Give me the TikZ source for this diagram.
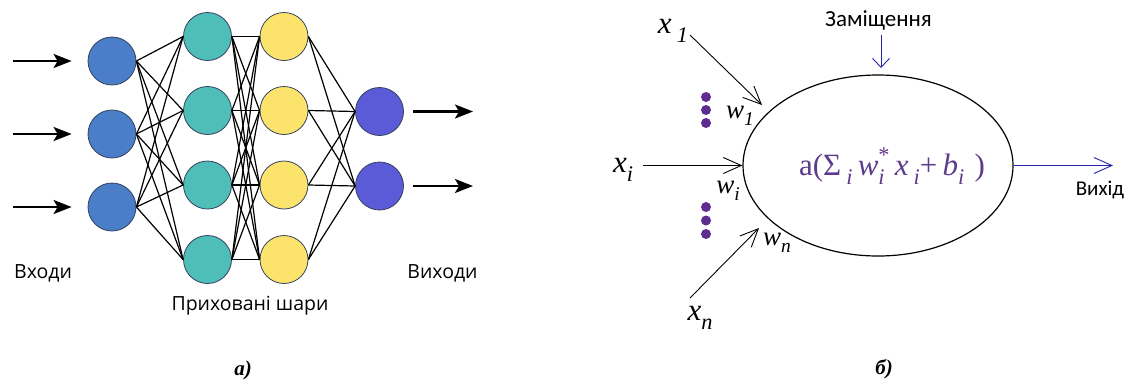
\documentclass[tikz,border=0pt]{standalone}
\usepackage{fontspec}
\usepackage{graphicx}
\newfontfamily\opensans{Open Sans}
\newfontfamily\carlito{Carlito}
\newfontfamily\lserif{Liberation Serif}
\usetikzlibrary{arrows.meta,shapes.geometric}
\definecolor{inblue}{HTML}{4A7EC8}
\definecolor{teal2}{HTML}{4FBDB8}
\definecolor{yell}{HTML}{FBE36C}
\definecolor{outblue}{HTML}{5B5BD8}
\definecolor{nborder}{HTML}{34415C}
\definecolor{dotc}{HTML}{5F2C91}
\definecolor{formc}{HTML}{5C3B8A}
\definecolor{darkblue}{HTML}{2424A8}
\newcommand\lsb[1]{\raisebox{-0.28em}{\scalebox{0.72}{#1}}}
\newcommand\lsp[1]{\raisebox{0.42em}{\scalebox{0.72}{#1}}}
\tikzset{
  neur/.style={circle, draw=nborder, line width=0.8pt, minimum size=48pt, inner sep=0pt},
  edge/.style={line width=1.2pt, black},
  inarrow/.style={line width=2.2pt, -{Stealth[length=18pt,width=14pt,inset=4pt]}},
  thinarrow/.style={line width=0.9pt, -{Straight Barb[length=18pt,width=16pt,line width=0.9pt]}},
  bluearrow/.style={line width=0.9pt, darkblue, -{Straight Barb[length=18pt,width=16pt,line width=0.9pt]}},
  biasarrow/.style={line width=0.9pt, darkblue, -{Straight Barb[length=9pt,width=17pt,line width=0.9pt]}},
  lab/.style={font=\opensans\fontsize{19.5}{22}\selectfont, inner sep=0pt},
  rlab/.style={font=\carlito\fontsize{21}{24}\selectfont, inner sep=0pt},
  mlab/.style={font=\lserif\itshape\fontsize{31}{33}\selectfont, inner sep=0pt},
  wlab/.style={font=\lserif\itshape\fontsize{27}{29}\selectfont, inner sep=0pt},
  dot/.style={circle, fill=dotc, minimum size=10pt, inner sep=0pt},
  caption/.style={font=\lserif\bfseries\itshape\fontsize{21}{23}\selectfont, inner sep=0pt}
}
\begin{document}
\begin{tikzpicture}[x=1pt,y=-1pt]
\useasboundingbox (0,0) rectangle (1130,381);
% ---------- panel a ----------
\node[neur, fill=inblue] (i1) at (112,61) {};
\node[neur, fill=inblue] (i2) at (112,134) {};
\node[neur, fill=inblue] (i3) at (112,207) {};
\node[neur, fill=teal2] (h1) at (207.5,36.5) {};
\node[neur, fill=teal2] (h2) at (207.5,110.5) {};
\node[neur, fill=teal2] (h3) at (207.5,185) {};
\node[neur, fill=teal2] (h4) at (207.5,259.5) {};
\node[neur, fill=yell] (k1) at (284,36.5) {};
\node[neur, fill=yell] (k2) at (284,110.5) {};
\node[neur, fill=yell] (k3) at (284,185) {};
\node[neur, fill=yell] (k4) at (284,259.5) {};
\node[neur, fill=outblue] (o1) at (379.5,111.5) {};
\node[neur, fill=outblue] (o2) at (379.5,186) {};
\foreach \a in {1,2,3} \foreach \b in {1,...,4} \draw[edge] (i\a.east) -- (h\b.west);
\foreach \a in {1,...,4} \foreach \b in {1,...,4} \draw[edge] (h\a.east) -- (k\b.west);
\foreach \a in {1,...,4} \foreach \b in {1,2} \draw[edge] (k\a.east) -- (o\b.west);
\coordinate (s1) at (13,61);
\coordinate (s2) at (13,134);
\coordinate (s3) at (13,207);
\draw[inarrow, shorten >=16pt] (s1) -- (i1);
\draw[inarrow, shorten >=16pt] (s2) -- (i2);
\draw[inarrow, shorten >=16pt] (s3) -- (i3);
\coordinate (t1) at (473,111.5);
\coordinate (t2) at (473,186);
\draw[inarrow, shorten <=9pt] (o1) -- (t1);
\draw[inarrow, shorten <=9pt] (o2) -- (t2);
\node[lab] (inl) at (43,273) {Входи};
\node[lab] (outl) at (442.5,273) {Виходи};
\node[lab] (hidl) at (250,306) {Приховані шари};
\node[caption] (capa) at (243,370) {а)};
% ---------- panel b ----------
\node[ellipse, draw, line width=1.2pt, minimum width=270pt, minimum height=181pt, inner sep=0pt] (neuron) at (878,165.5) {};
\node[inner sep=0pt, text=formc, font=\lserif\fontsize{31}{33}\selectfont] (form) at (892,166)
  {a(Σ\,\lsb{\itshape i}\,{\itshape w}\rlap{\lsb{\itshape i}}\lsp{*}\,{\itshape x}\,\lsb{\itshape i}+\,{\itshape b}\lsb{\itshape i}\,\,)};
\node[mlab] (x1) at (673,31) {x\,\lsb{1}};
\node[mlab] (xi) at (623,170) {x\lsb{i}};
\node[mlab] (xn) at (700,318) {x\lsb{n}};
\node[wlab] (w1) at (740,116) {w\lsb{1}};
\node[wlab] (wi) at (728,191) {w\lsb{i}};
\node[wlab] (wn) at (777,243) {w\lsb{n}};
\node[dot] (d1) at (706,97) {};
\node[dot] (d2) at (706,110) {};
\node[dot] (d3) at (706,123) {};
\node[dot] (d4) at (706,207) {};
\node[dot] (d5) at (706,220.5) {};
\node[dot] (d6) at (706,234) {};
\coordinate (x1s) at (690,35);
\coordinate (x1e) at (762,105);
\draw[thinarrow] (x1s) -- (x1e);
\coordinate (xis) at (643,165.5);
\draw[thinarrow] (xis) -- (neuron.west);
\coordinate (xns) at (690,298);
\coordinate (xne) at (759,228);
\draw[thinarrow] (xns) -- (xne);
\node[rlab, font=\carlito\fontsize{23}{25}\selectfont] (bias) at (878.5,20) {Заміщення};
\coordinate (bs) at (881,35);
\coordinate (be) at (881,68);
\draw[biasarrow] (bs) -- (be);
\coordinate (oe) at (1113,165.5);
\draw[bluearrow] (neuron.east) -- (oe);
\node[rlab] (outr) at (1100,190) {Вихід};
\node[caption] (capb) at (884,369) {б)};
\end{tikzpicture}
\end{document}
